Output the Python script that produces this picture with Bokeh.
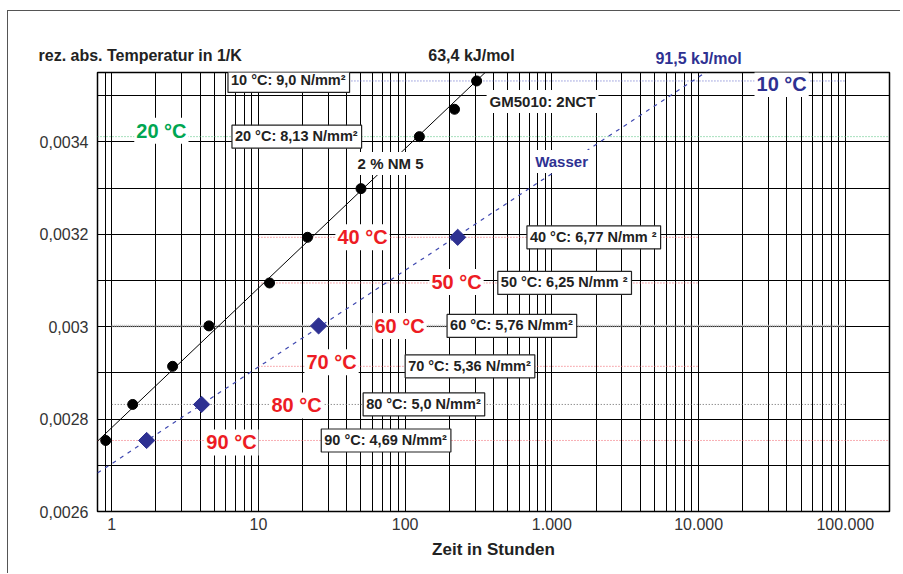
import math
import numpy as np
from bokeh.plotting import figure
from bokeh.models import Range1d, FixedTicker, CustomJSTickFormatter, Label
from bokeh.embed import file_html
from bokeh.resources import INLINE

# ---------------- data ----------------
temps_nm5 = [90, 80, 70, 60, 50, 40, 30, 20, 15, 10]
hours_nm5 = [0.91, 1.39, 2.6, 4.6, 11.9, 21.6, 50, 125, 217, 307]
temps_water = [90, 80, 60, 40]
hours_water = [1.73, 4.1, 25.7, 228]
ea_nm5 = 63.4      # kJ/mol
ea_water = 91.5    # kJ/mol
iso_temps = [10, 20, 40, 50, 60, 70, 80, 90]
iso_strength = ["9,0", "8,13", "6,77", "6,25", "5,76", "5,36", "5,0", "4,69"]
iso_from = [10, 0.8, 10, 10, 1, 10, 1, 0.8]
iso_to = [1e5, 2e5, 1e4, 1e4, 1e5, 1e4, 1e5, 2e5]
x_ticks = [1, 10, 100, 1000, 10000, 100000]
y_ticks = [0.0026, 0.0028, 0.003, 0.0032, 0.0034]
y_minor = [0.0027, 0.0029, 0.0031, 0.0033, 0.0035]

# annotation placement (separate from data)
iso_colors = ["#5B63C6", "#4CC27A", "#F0606A", "#F0606A", "#B0B0B0", "#F0606A", "#666666", "#F0606A"]
iso_widths = [1, 1, 1, 1, 2.5, 1, 1, 1]
iso_dash = ["1 2", "1 2", "1 2", "1 2", "1 1", "1 2", "1 2", "1 2"]
tlabel_x = [36800, 2.18, 51.2, 224, 91.5, 31.5, 18.2, 6.55]
tlabel_dy = [-3, 6, 0, 1, 0, 4, -1, -2]
tlabel_col = ["#2E3192", "#00A651", "#ED1C24", "#ED1C24", "#ED1C24", "#ED1C24", "#ED1C24", "#ED1C24"]
box_x = [6.2, 6.6, 676, 428, 193, 100, 51.7, 26.8]
box_sup = ["²", "²", " ²", " ²", "²", "²", "²", "²"]

FONT = "Liberation Sans"
R = 8.314e-3  # kJ/(mol K)


def inv_t(c):
    return 1.0 / (c + 273.15)


x0, x1 = 0.8, 2e5
y0, y1 = 0.0026, 0.00355

p = figure(width=893, height=563, x_axis_type="log",
           x_range=Range1d(x0, x1), y_range=Range1d(y0, y1),
           output_backend="svg", toolbar_location=None,
           min_border_left=89, min_border_top=61, min_border_right=12,
           min_border_bottom=63)
p.styles = {"margin-left": "7px", "margin-top": "10px",
            "border-left": "1px solid #555555", "border-top": "1px solid #555555"}
p.background_fill_color = "white"
p.border_fill_color = "white"
p.outline_line_color = "black"
p.outline_line_width = 1.5

x_minor = [m * 10.0 ** k for k in range(-1, 6) for m in range(2, 10)
           if x0 <= m * 10.0 ** k <= x1]
xt = FixedTicker(ticks=x_ticks, minor_ticks=x_minor)
yt = FixedTicker(ticks=y_ticks, minor_ticks=y_minor)
p.xaxis.ticker = xt
p.yaxis.ticker = yt
p.xgrid.ticker = xt
p.ygrid.ticker = yt
for g in (p.xgrid, p.ygrid):
    g.grid_line_color = "black"
    g.grid_line_width = 1
    g.minor_grid_line_color = "black"
    g.minor_grid_line_width = 1

p.xaxis.formatter = CustomJSTickFormatter(
    code="return Math.round(tick).toString().replace(/\\B(?=(\\d{3})+(?!\\d))/g, '.');")
p.yaxis.formatter = CustomJSTickFormatter(
    code="return tick.toFixed(4).replace(/0+$/, '').replace('.', ',');")

for ax in (p.xaxis, p.yaxis):
    ax.major_tick_out = 0
    ax.major_tick_in = 0
    ax.minor_tick_out = 0
    ax.minor_tick_in = 0
    ax.axis_line_color = None
    ax.major_label_text_font = FONT
    ax.major_label_text_font_size = "16px"
    ax.major_label_text_color = "#333333"
p.yaxis.major_label_standoff = 9
p.xaxis.major_label_standoff = 6
p.xaxis.axis_label = "Zeit in Stunden"
p.xaxis.axis_label_text_font = FONT
p.xaxis.axis_label_text_font_style = "bold"
p.xaxis.axis_label_text_font_size = "17px"
p.xaxis.axis_label_text_color = "#222222"
p.xaxis.axis_label_standoff = 7

# isotherm lines
for T, a, b, c, w, d in zip(iso_temps, iso_from, iso_to, iso_colors, iso_widths, iso_dash):
    p.line([a, b], [inv_t(T), inv_t(T)], line_color=c, line_width=w, line_dash=d)


# Arrhenius lines (slope from activation energy, intercept fitted to points)
def arrhenius_line(temps, hours, ea):
    slope = R * math.log(10) / ea
    lt = np.log10(hours)
    iv = np.array([inv_t(t) for t in temps])
    icpt = float(np.mean(iv - slope * lt))
    xs = np.array([x0, x1])
    return xs, icpt + slope * np.log10(xs)


xs, ys = arrhenius_line(temps_nm5, hours_nm5, ea_nm5)
p.line(xs, ys, line_color="black", line_width=1)
xs, ys = arrhenius_line(temps_water, hours_water, ea_water)
p.line(xs, ys, line_color="#3F48B0", line_width=1.2, line_dash="4 5")

p.scatter(hours_nm5, [inv_t(t) for t in temps_nm5], marker="circle", size=10,
          fill_color="black", line_color="black")
p.scatter(hours_water, [inv_t(t) for t in temps_water], marker="square", size=11.5,
          angle=math.pi / 4, fill_color="#2E3192", line_color="#2E3192")

# temperature labels
for T, lx, dy, col in zip(iso_temps, tlabel_x, tlabel_dy, tlabel_col):
    p.add_layout(Label(x=lx, y=inv_t(T), y_offset=dy, text=f"{T} °C",
                       text_align="center", text_baseline="middle",
                       text_font=FONT, text_font_style="bold", text_font_size="20px",
                       text_color=col, background_fill_color="white", padding=2))

# boxed strength labels
for T, s, bx, sup in zip(iso_temps, iso_strength, box_x, box_sup):
    p.add_layout(Label(x=bx, y=inv_t(T), text=f"{T} °C: {s} N/mm{sup}",
                       text_align="left", text_baseline="middle",
                       text_font=FONT, text_font_style="bold", text_font_size="14.5px",
                       text_color="#222222", background_fill_color="white",
                       border_line_color="#222222", border_line_width=1.2,
                       padding=(3, 4, 3, 4)))


def note(x, y, text, color="#222222", size="16px", align="center", bg=None, side=None,
         pad=3):
    lab = Label(x=x, y=y, text=text, text_align=align, text_baseline="middle",
                text_font=FONT, text_font_style="bold", text_font_size=size,
                text_color=color, background_fill_color=bg, padding=pad)
    if side is None:
        p.add_layout(lab)
    else:
        p.add_layout(lab, side)


# texts above the frame live in the "above" panel so they are not clipped
note(0.317, 0.0035868, "rez. abs. Temperatur in 1/K", align="left", side="above", pad=0)
note(283, 0.0035868, f"{ea_nm5:.1f} kJ/mol".replace(".", ","), side="above", pad=0)
note(10000, 0.0035803, f"{ea_water:.1f} kJ/mol".replace(".", ","), color="#2E3192",
     side="above", pad=0)
note(359, 0.0034872, "GM5010: 2NCT", size="15px", align="left", bg="white")
note(79.5, 0.003353, "2 % NM 5", size="15px", bg="white")
note(1164, 0.0033574, "Wasser", color="#2E3192", size="15px", bg="white")

open("out.html", "w").write(file_html(p, INLINE))
